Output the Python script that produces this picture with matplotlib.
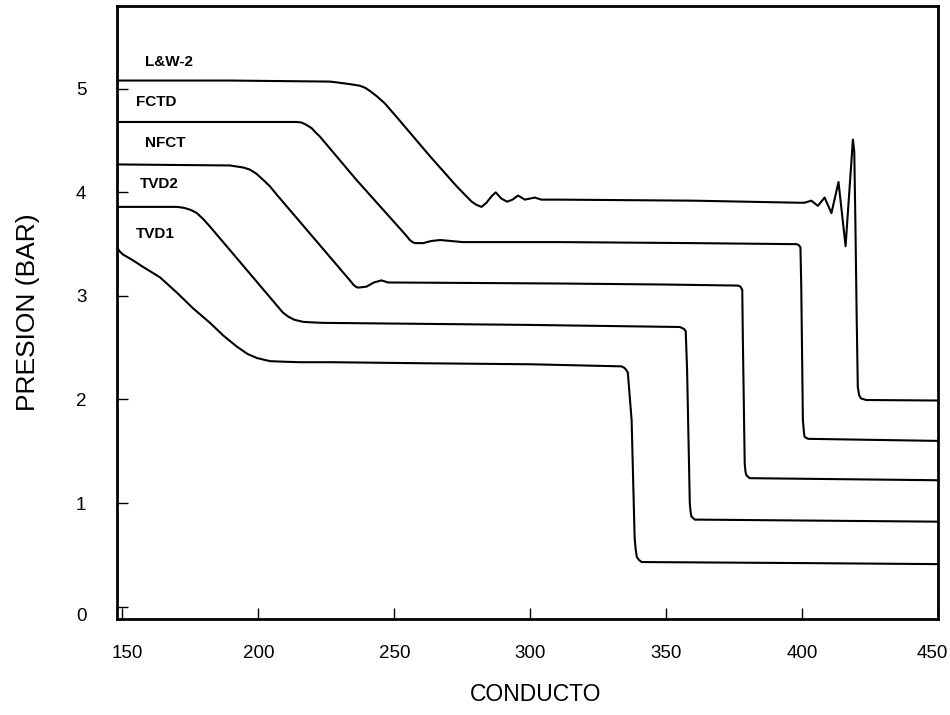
import matplotlib
matplotlib.use("Agg")
import matplotlib.pyplot as plt
import matplotlib.transforms as mtransforms

plt.rcParams['font.family'] = ['Liberation Sans', 'DejaVu Sans']

# ---- data ----
lw2_x = [148, 190, 226.3, 229.5, 232.4, 235.0, 237.3, 239.3, 241.0, 243.5, 246.5, 250.8,
         263.1, 272.9, 276.6, 278.5, 280.2, 282.1, 283.9, 285.7, 287.3, 289.4, 291.5, 293.5,
         295.5, 298.0, 301.7, 304.1, 310.9, 360, 399.1,
         400.9, 403.4, 405.8, 408.3, 410.8, 413.4, 416.0, 418.7, 419.2, 419.6, 420.1,
         420.5, 421.0, 421.7, 423.6, 450]
lw2_y = [5.08, 5.08, 5.07, 5.06, 5.05, 5.04, 5.03, 5.01, 4.98, 4.93, 4.86, 4.73,
         4.35, 4.06, 3.96, 3.91, 3.88, 3.86, 3.90, 3.96, 4.00, 3.94, 3.91, 3.93,
         3.97, 3.93, 3.95, 3.93, 3.93, 3.92, 3.90,
         3.90, 3.92, 3.87, 3.95, 3.80, 4.10, 3.48, 4.51, 4.39, 3.73, 2.77,
         2.12, 2.04, 2.01, 1.995, 1.99]

fctd_x = [148, 189.5, 214.1, 215.8, 217.1, 218.4, 219.6, 221.0, 222.6, 236.1, 254.5, 255.7,
          256.7, 257.6, 260.6, 263.5, 266.8, 275.2,
          310.9, 360, 398.0, 398.8, 399.4, 399.7, 400.3, 400.7, 400.9, 401.5, 402.2, 450]
fctd_y = [4.68, 4.68, 4.68, 4.675, 4.66, 4.64, 4.62, 4.58, 4.54, 4.12, 3.58, 3.54,
          3.52, 3.51, 3.51, 3.53, 3.54, 3.52,
          3.52, 3.51, 3.50, 3.49, 3.47, 3.09, 1.80, 1.68, 1.64, 1.63, 1.62, 1.60]

nfct_x = [148, 189.5, 192.0, 194.5, 196.9, 199.3, 201.8, 204.2, 206.7, 234.0, 234.9, 235.8,
          236.7, 239.8, 242.5, 245.3, 247.7, 310.9, 350,
          376.5, 377.3, 378.0, 378.2, 378.9, 379.2, 379.5, 380.7, 450]
nfct_y = [4.27, 4.26, 4.25, 4.24, 4.22, 4.18, 4.12, 4.06, 3.98, 3.14, 3.11, 3.09,
          3.08, 3.09, 3.13, 3.15, 3.13, 3.12, 3.11,
          3.10, 3.09, 3.06, 2.61, 1.38, 1.30, 1.27, 1.24, 1.22]

tvd2_x = [148, 170.1, 172.8, 175.2, 177.4, 179.8, 182.2, 209.0, 211.0, 213.2, 216.4, 219.5,
          223.7, 300, 355.0, 355.9, 356.6, 357.2, 357.7, 358.7, 359.0,
          359.3, 360.5, 450]
tvd2_y = [3.86, 3.86, 3.85, 3.83, 3.80, 3.74, 3.67, 2.84, 2.80, 2.77, 2.75, 2.745,
          2.74, 2.72, 2.70, 2.69, 2.68, 2.66, 2.29, 1.00, 0.91,
          0.87, 0.84, 0.82]

tvd1_x = [148, 149.0, 150.2, 153.5, 157.6, 163.8, 170.1, 176.0, 182.2, 187.0, 192.1, 196.0,
          199.5, 204.3, 209.0, 215.0, 226.3, 260.0, 300.0, 333.5, 334.4, 335.2, 335.9, 337.3,
          338.4, 338.8, 339.2, 340.0, 341.0, 400, 450]
tvd1_y = [3.47, 3.43, 3.40, 3.35, 3.28, 3.18, 3.03, 2.88, 2.74, 2.62, 2.51, 2.44,
          2.40, 2.37, 2.365, 2.36, 2.36, 2.35, 2.34, 2.32, 2.31, 2.29, 2.26, 1.80,
          0.67, 0.55, 0.48, 0.45, 0.43, 0.42, 0.41]

series_x = [lw2_x, fctd_x, nfct_x, tvd2_x, tvd1_x]
series_y = [lw2_y, fctd_y, nfct_y, tvd2_y, tvd1_y]

labels = ['L&W-2', 'FCTD', 'NFCT', 'TVD2', 'TVD1']
label_x = [158.3, 155.0, 158.3, 156.5, 155.0]
label_y = [5.26, 4.87, 4.48, 4.08, 3.60]

x_ticks = [150, 200, 250, 300, 350, 400, 450]
y_ticks = [0, 1, 2, 3, 4, 5]

# ---- figure ----
fig = plt.figure(figsize=(9.5, 7.15), dpi=100)
ax = fig.add_axes([117 / 950, 96 / 715, 821 / 950, 613 / 715])

for xs, ys in zip(series_x, series_y):
    ax.plot(xs, ys, color='black', lw=1.5, solid_joinstyle='round', solid_capstyle='round')

for t, x, y in zip(labels, label_x, label_y):
    ax.text(x, y, t, fontsize=11, fontweight='bold', ha='left', va='center')

ax.set_xlim(148, 450)
ax.set_ylim(-0.12, 5.80)
ax.set_xticks(x_ticks)
ax.set_yticks(y_ticks)
ax.tick_params(direction='in', length=8, width=1, labelsize=13.5)
ax.tick_params(axis='x', pad=19)
ax.tick_params(axis='y', pad=22)
for s in ax.spines.values():
    s.set_linewidth(2)

# small nudges of end labels as in the reference
xlabels = ax.get_xticklabels()
xlabels[0].set_transform(xlabels[0].get_transform() +
                         mtransforms.ScaledTranslation(5 / 100, 0, fig.dpi_scale_trans))
xlabels[-1].set_transform(xlabels[-1].get_transform() +
                          mtransforms.ScaledTranslation(-6 / 100, 0, fig.dpi_scale_trans))
ylabels = ax.get_yticklabels()
ylabels[0].set_transform(ylabels[0].get_transform() +
                         mtransforms.ScaledTranslation(0, -8 / 100, fig.dpi_scale_trans))

ax.set_xlabel('CONDUCTO', fontsize=16.5, labelpad=16)
ax.xaxis.set_label_coords(0.51, -0.105)
ax.set_ylabel('PRESION (BAR)', fontsize=19, labelpad=26)

fig.savefig('out.png', dpi=100)
